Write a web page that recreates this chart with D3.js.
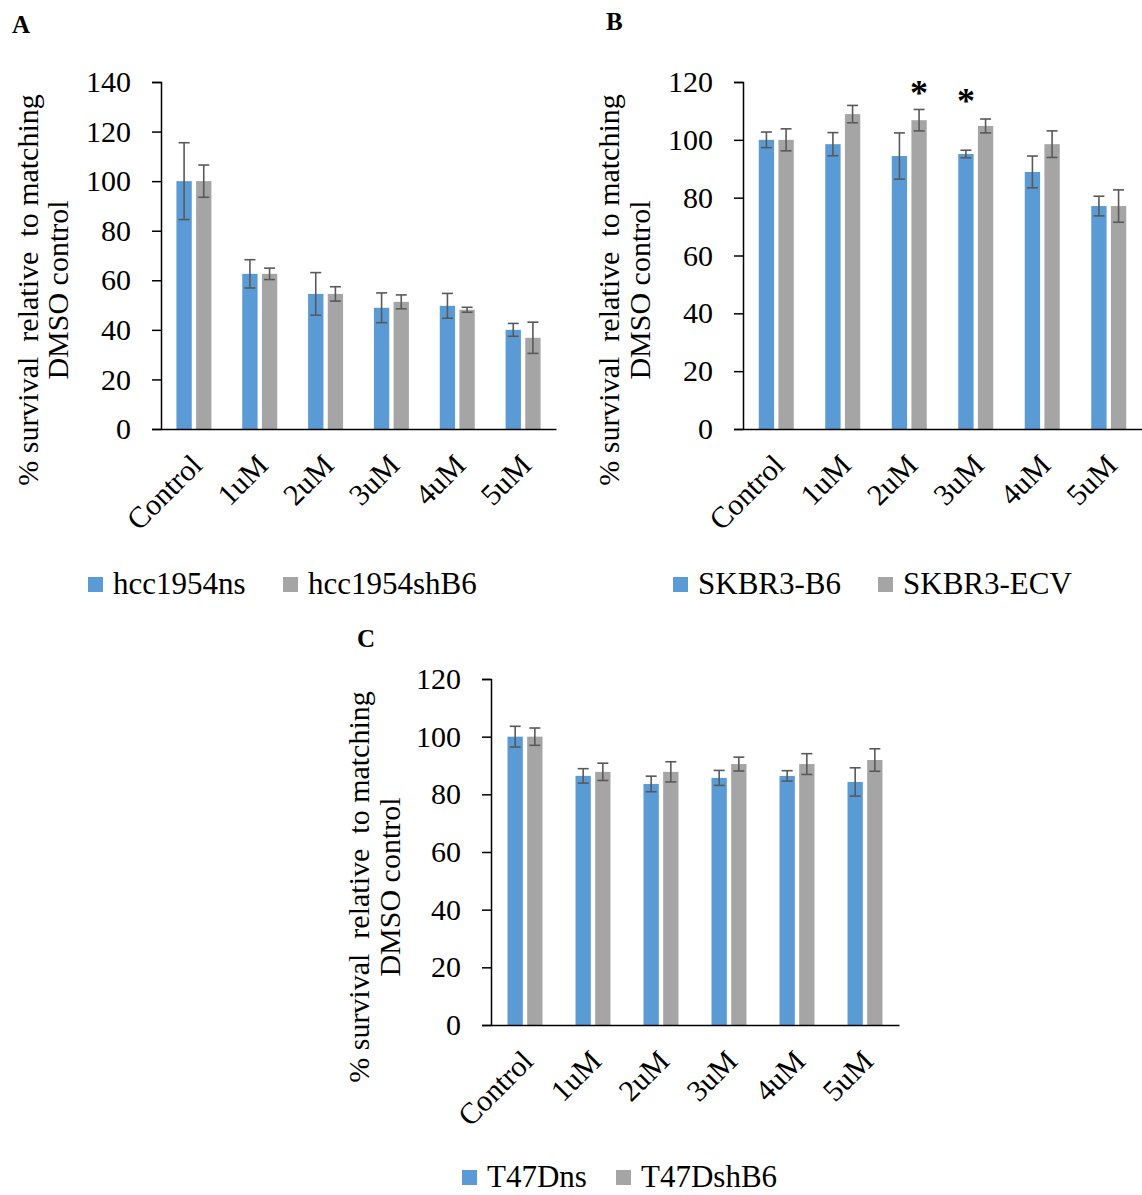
<!DOCTYPE html>
<html lang="en">
<head>
<meta charset="utf-8">
<title>Survival panels</title>
<script src="https://d3js.org/d3.v7.min.js"></script>
<style>
  body { margin: 0; background: #fff; }
  text { font-family: "Liberation Serif", "Times New Roman", serif; fill: #000; }
</style>
</head>
<body>
<script>
// categories shared by all three panels
var categories = ["Control", "1uM", "2uM", "3uM", "4uM", "5uM"];

// panel A
var aSeries = ["hcc1954ns", "hcc1954shB6"];
var aNs = [100, 62.6, 54.5, 48.9, 49.7, 40.0];
var aNsErr = [15.5, 5.7, 8.6, 6.0, 5.0, 2.6];
var aSh = [100, 62.6, 54.5, 51.3, 48.1, 36.8];
var aShErr = [6.5, 2.3, 2.9, 2.8, 1.0, 6.3];
var aTicks = [0, 20, 40, 60, 80, 100, 120, 140];

// panel B
var bSeries = ["SKBR3-B6", "SKBR3-ECV"];
var bB6 = [100, 98.5, 94.4, 95.1, 88.9, 77.1];
var bB6Err = [2.7, 4.0, 8.0, 1.3, 5.5, 3.4];
var bEcv = [100, 108.9, 106.8, 104.8, 98.5, 77.1];
var bEcvErr = [3.8, 3.0, 3.7, 2.4, 4.6, 5.6];
var bTicks = [0, 20, 40, 60, 80, 100, 120];
// significance marks: [category, series index, height]
var bStars = [["2uM", 1, 118.6], ["3uM", 0, 115.9]];

// panel C
var cSeries = ["T47Dns", "T47DshB6"];
var cNs = [100, 86.4, 83.6, 85.7, 86.4, 84.3];
var cNsErr = [3.6, 2.5, 2.7, 2.6, 1.8, 4.9];
var cSh = [100, 87.8, 87.8, 90.5, 90.5, 91.9];
var cShErr = [3.0, 3.0, 3.5, 2.4, 3.6, 3.9];
var cTicks = [0, 20, 40, 60, 80, 100, 120];

var colors = ["#5b9bd5", "#a5a5a5"];
var errColor = "#595959";

var svg = d3.select("body").append("svg")
  .attr("width", 1142)
  .attr("height", 1195);

function drawPanel(p) {
  var g = svg.append("g");

  var x = d3.scaleBand().domain(categories).range([p.left, p.right]);
  var y = d3.scaleLinear().domain([0, p.max]).range([p.bottom, p.top]);
  var sub = d3.scaleBand().domain([0, 1]).range([-17.5, 17.5]).paddingInner(0.22);

  // bars
  p.values.forEach(function(vals, s) {
    g.selectAll(null).data(vals).enter().append("rect")
      .attr("x", function(d, i) { return x(categories[i]) + x.bandwidth() / 2 + sub(s); })
      .attr("y", function(d) { return y(d); })
      .attr("width", sub.bandwidth())
      .attr("height", function(d) { return y(0) - y(d); })
      .attr("fill", colors[s]);
  });

  // error bars
  p.values.forEach(function(vals, s) {
    var errs = p.errors[s];
    vals.forEach(function(v, i) {
      var cx = x(categories[i]) + x.bandwidth() / 2 + sub(s) + sub.bandwidth() / 2;
      var lo = y(v - errs[i]), hi = y(v + errs[i]);
      g.append("line").attr("x1", cx).attr("x2", cx).attr("y1", lo).attr("y2", hi)
        .attr("stroke", errColor).attr("stroke-width", 1.6);
      [lo, hi].forEach(function(yy) {
        g.append("line").attr("x1", cx - 5.5).attr("x2", cx + 5.5).attr("y1", yy).attr("y2", yy)
          .attr("stroke", errColor).attr("stroke-width", 1.6);
      });
    });
  });

  // y axis
  var yAxis = g.append("g")
    .attr("transform", "translate(" + p.left + ",0)")
    .call(d3.axisLeft(y).tickValues(p.ticks).tickSize(9).tickPadding(21));
  yAxis.select(".domain").attr("stroke", "#000").attr("stroke-width", 1.5);
  yAxis.selectAll(".tick line").attr("stroke", "#000").attr("stroke-width", 1.5);
  yAxis.selectAll(".tick text")
    .style("font-family", '"Liberation Serif", serif')
    .style("font-size", "30px").attr("fill", "#000");

  // x axis
  var xAxis = g.append("g")
    .attr("transform", "translate(0," + p.bottom + ")")
    .call(d3.axisBottom(x).tickSize(0).tickPadding(0));
  xAxis.select(".domain").attr("stroke", "#000").attr("stroke-width", 1.5);
  xAxis.selectAll(".tick text")
    .style("font-family", '"Liberation Serif", serif')
    .style("font-size", "30px").attr("fill", "#000")
    .attr("text-anchor", "end")
    .attr("y", 0).attr("dy", 0)
    .attr("transform", "translate(10,38) rotate(-45)");

  // y title
  var t = g.append("text")
    .attr("transform", "translate(" + p.titleX + "," + p.titleY + ") rotate(-90)")
    .attr("text-anchor", "middle")
    .style("font-size", "30px");
  t.append("tspan").attr("x", 0).attr("y", 0).attr("xml:space", "preserve")
    .text("% survival  relative  to matching");
  t.append("tspan").attr("x", 0).attr("y", p.titleGap).text("DMSO control");

  // panel letter
  g.append("text").attr("x", p.letterX).attr("y", p.letterY)
    .style("font-size", "25px").style("font-weight", "bold").text(p.letter);

  // legend
  p.series.forEach(function(name, s) {
    var lx = p.legendX[s];
    g.append("rect").attr("x", lx).attr("y", p.legendY - 17).attr("width", 15).attr("height", 15)
      .attr("fill", colors[s]);
    g.append("text").attr("x", lx + 25).attr("y", p.legendY).style("font-size", "31px").text(name);
  });

  // stars
  (p.stars || []).forEach(function(st) {
    var cx = x(st[0]) + x.bandwidth() / 2 + sub(st[1]) + sub.bandwidth() / 2;
    g.append("text").attr("x", cx).attr("y", y(st[2]) + 19)
      .attr("text-anchor", "middle")
      .style("font-size", "36px").style("font-weight", "bold").text("*");
  });
}

drawPanel({
  left: 161, right: 556, top: 82, bottom: 429, max: 140, ticks: aTicks,
  values: [aNs, aSh], errors: [aNsErr, aShErr], series: aSeries,
  titleX: 38, titleY: 290, titleGap: 30,
  letter: "A", letterX: 12, letterY: 33,
  legendX: [88, 283], legendY: 594
});

drawPanel({
  left: 743, right: 1142, top: 82, bottom: 429, max: 120, ticks: bTicks,
  values: [bB6, bEcv], errors: [bB6Err, bEcvErr], series: bSeries, stars: bStars,
  titleX: 619, titleY: 290, titleGap: 31,
  letter: "B", letterX: 606, letterY: 30,
  legendX: [673, 878], legendY: 594
});

drawPanel({
  left: 491, right: 899, top: 679, bottom: 1025, max: 120, ticks: cTicks,
  values: [cNs, cSh], errors: [cNsErr, cShErr], series: cSeries,
  titleX: 369, titleY: 887, titleGap: 31,
  letter: "C", letterX: 357, letterY: 647,
  legendX: [462, 616], legendY: 1187
});
</script>
</body>
</html>
